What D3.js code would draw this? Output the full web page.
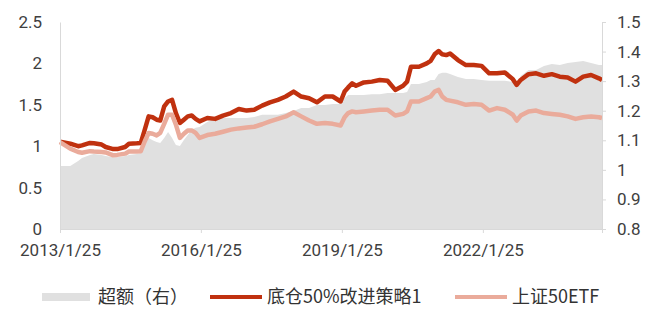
<!DOCTYPE html>
<html>
<head>
<meta charset="utf-8">
<script src="https://cdn.jsdelivr.net/npm/d3@7"></script>
<style>
  body { margin: 0; background: #fff; }
  .axis text { font-family: Roboto, "Noto Sans", sans-serif; font-size: 17px; fill: #404040; }
  .legend text { font-family: "Noto Sans CJK SC", sans-serif; font-size: 18px; fill: #333; }
</style>
</head>
<body>
<div id="chart"></div>
<script>
// monthly readings
var dates = ["2013-01-25","2013-04-15","2013-06-15","2013-07-15","2013-09-15","2013-10-15","2013-12-15",
  "2014-01-15","2014-03-15","2014-04-15","2014-06-15","2014-07-15","2014-09-15","2014-10-15","2014-11-15","2014-12-15",
  "2015-01-15","2015-02-15","2015-03-15","2015-04-15","2015-05-15","2015-06-15","2015-07-15","2015-08-15","2015-09-15","2015-10-15","2015-11-15","2015-12-15",
  "2016-01-15","2016-03-15","2016-05-15","2016-07-15","2016-09-15","2016-11-15",
  "2017-01-15","2017-03-15","2017-05-15","2017-07-15","2017-09-15","2017-11-15",
  "2018-01-15","2018-03-15","2018-05-15","2018-07-15","2018-09-15","2018-11-15",
  "2019-01-15","2019-02-15","2019-03-15","2019-04-15","2019-05-15","2019-07-15","2019-09-15","2019-11-15",
  "2020-01-15","2020-03-15","2020-05-15","2020-06-15","2020-07-15","2020-09-15","2020-11-15","2020-12-15",
  "2021-01-15","2021-02-15","2021-03-15","2021-04-15","2021-05-15","2021-07-15","2021-09-15","2021-11-15",
  "2022-01-15","2022-03-15","2022-05-15","2022-07-15","2022-09-15","2022-10-15","2022-11-15",
  "2023-01-15","2023-03-15","2023-05-15","2023-07-15","2023-09-15","2023-11-15",
  "2024-01-15","2024-03-15","2024-05-15","2024-07-15","2024-08-08"];

var strategy = [1.055,1.03,1.00,1.01,1.04,1.035,1.02,
  0.99,0.965,0.965,0.99,1.03,1.035,1.04,1.20,1.36,
  1.35,1.32,1.31,1.48,1.54,1.56,1.40,1.28,1.32,1.36,1.37,1.33,
  1.30,1.34,1.33,1.37,1.40,1.45,
  1.43,1.44,1.49,1.53,1.56,1.60,
  1.66,1.60,1.58,1.53,1.60,1.60,
  1.54,1.66,1.71,1.76,1.73,1.77,1.78,1.80,
  1.79,1.68,1.73,1.78,1.96,1.96,2.00,2.03,
  2.11,2.15,2.11,2.10,2.12,2.04,1.98,1.98,
  1.97,1.88,1.88,1.89,1.81,1.74,1.80,
  1.87,1.88,1.85,1.87,1.84,1.83,
  1.78,1.84,1.86,1.82,1.80];

var etf50 = [1.05,0.97,0.93,0.92,0.94,0.935,0.93,
  0.925,0.89,0.895,0.91,0.935,0.935,0.94,1.06,1.16,
  1.15,1.13,1.16,1.27,1.38,1.38,1.26,1.10,1.15,1.19,1.19,1.16,
  1.10,1.135,1.15,1.175,1.20,1.215,
  1.225,1.235,1.265,1.30,1.33,1.36,
  1.41,1.36,1.31,1.27,1.28,1.27,
  1.25,1.35,1.40,1.42,1.41,1.42,1.43,1.44,
  1.44,1.37,1.39,1.42,1.54,1.54,1.58,1.60,
  1.66,1.68,1.60,1.56,1.55,1.53,1.50,1.51,
  1.50,1.43,1.46,1.44,1.38,1.31,1.37,
  1.42,1.43,1.40,1.39,1.38,1.36,
  1.33,1.35,1.36,1.35,1.34];

// excess, read on the right axis
var excess = [1.013,1.013,1.03,1.04,1.05,1.054,1.05,
  1.047,1.043,1.043,1.047,1.05,1.054,1.057,1.098,1.108,
  1.10,1.094,1.091,1.108,1.128,1.108,1.084,1.081,1.101,1.118,1.135,1.142,
  1.145,1.162,1.175,1.175,1.175,1.175,
  1.175,1.179,1.186,1.186,1.186,1.192,
  1.199,1.209,1.209,1.219,1.219,1.223,
  1.223,1.243,1.253,1.253,1.253,1.253,1.256,1.256,
  1.26,1.26,1.26,1.263,1.29,1.29,1.297,1.304,
  1.304,1.324,1.328,1.328,1.324,1.314,1.307,1.307,
  1.304,1.301,1.301,1.301,1.297,1.287,1.317,
  1.338,1.338,1.351,1.358,1.355,1.361,
  1.365,1.368,1.361,1.355,1.355];

var xTicks = ["2013-01-25","2016-01-25","2019-01-25","2022-01-25"];
var leftTicks = [0,0.5,1,1.5,2,2.5];
var rightTicks = [0.8,0.9,1,1.1,1.2,1.3,1.4,1.5];
var legendNames = ["超额（右）","底仓50%改进策略1","上证50ETF"];

drawChart();

function drawChart(){
  var canvasW = 654, canvasH = 333;
  var margin = {top: 22, right: 52, bottom: 104, left: 60};
  var width = canvasW - margin.left - margin.right,
      height = canvasH - margin.top - margin.bottom;

  var parse = d3.timeParse("%Y-%m-%d");
  var rows = dates.map(function(d, i){
    return {t: parse(d), s: strategy[i], e: etf50[i], x: excess[i]};
  });

  var svg = d3.select("#chart").append("svg")
    .attr("width", canvasW)
    .attr("height", canvasH);
  var g = svg.append("g").attr("transform", "translate(" + margin.left + "," + margin.top + ")");

  var x = d3.scaleTime().domain([parse("2013-01-25"), parse("2024-08-08")]).range([0, width]);
  var y = d3.scaleLinear().domain([0, 2.5]).range([height, 0]);
  var y2 = d3.scaleLinear().domain([0.8, 1.5]).range([height, 0]);

  // gray excess area on the right axis
  var area = d3.area()
    .x(function(d){ return x(d.t); })
    .y0(height)
    .y1(function(d){ return y2(d.x); });
  g.append("path").datum(rows)
    .attr("d", area)
    .attr("fill", "#e0e0e0");

  var lineS = d3.line().x(function(d){ return x(d.t); }).y(function(d){ return y(d.s); });
  var lineE = d3.line().x(function(d){ return x(d.t); }).y(function(d){ return y(d.e); });

  g.append("path").datum(rows)
    .attr("d", lineS)
    .attr("fill", "none")
    .attr("stroke", "#c0310f")
    .attr("stroke-width", 4.5)
    .attr("stroke-linejoin", "round");
  g.append("path").datum(rows)
    .attr("d", lineE)
    .attr("fill", "none")
    .attr("stroke", "#eaab9b")
    .attr("stroke-width", 4.5)
    .attr("stroke-linejoin", "round");

  // axes
  var gx = g.append("g").attr("class", "axis")
    .attr("transform", "translate(0," + height + ")")
    .call(d3.axisBottom(x).tickValues(xTicks.map(parse)).tickSize(4).tickPadding(11)
      .tickFormat(d3.timeFormat("%Y/%-m/%-d")));
  var gl = g.append("g").attr("class", "axis")
    .call(d3.axisLeft(y).tickValues(leftTicks).tickSize(0).tickPadding(18).tickFormat(function(d){ return String(d); }));
  var gr = g.append("g").attr("class", "axis")
    .attr("transform", "translate(" + width + ",0)")
    .call(d3.axisRight(y2).tickValues(rightTicks).tickSize(4).tickPadding(11).tickFormat(function(d){ return String(+d.toFixed(1)); }));
  [gx, gl, gr].forEach(function(a){
    a.selectAll(".domain").attr("stroke", "#d9d9d9");
    a.selectAll(".tick line").attr("stroke", "#d9d9d9");
  });

  // legend
  var lg = svg.append("g").attr("class", "legend").attr("transform", "translate(0,297)");
  lg.append("rect").attr("x", 42).attr("y", -4).attr("width", 48).attr("height", 8).attr("fill", "#e0e0e0");
  lg.append("text").attr("x", 98).attr("dy", "0.35em").text(legendNames[0]);
  lg.append("line").attr("x1", 210).attr("x2", 262).attr("stroke", "#c0310f").attr("stroke-width", 4);
  lg.append("text").attr("x", 267).attr("dy", "0.35em").text(legendNames[1]);
  lg.append("line").attr("x1", 455).attr("x2", 507).attr("stroke", "#eaab9b").attr("stroke-width", 4);
  lg.append("text").attr("x", 512).attr("dy", "0.35em").text(legendNames[2]);
}
</script>
</body>
</html>
